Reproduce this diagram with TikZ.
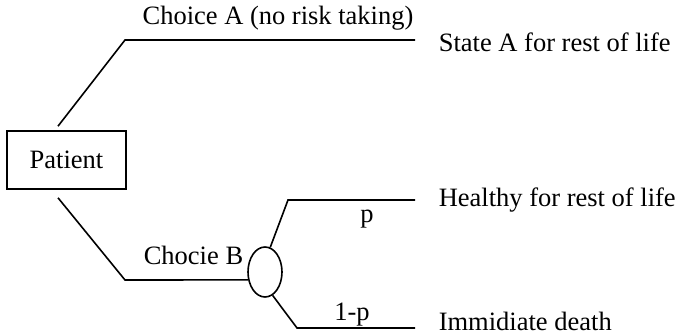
\documentclass[tikz,border=0pt]{standalone}
\usepackage{fontspec}
\setmainfont{Liberation Serif}
\usetikzlibrary{shapes.geometric}
\begin{document}
\begin{tikzpicture}[x=1pt,y=-1pt,line width=1.6pt,
	every node/.style={font=\fontsize{26.5}{30}\selectfont,inner sep=0pt},
	outcome/.style={anchor=base west},
	branchlabel/.style={anchor=base}]
	\useasboundingbox (0,0) rectangle (678,336);
	% decision and chance nodes
	\node[draw,minimum width=119pt,minimum height=58pt] (patient) at (66.5,160) {Patient};
	\node[draw,ellipse,minimum width=34pt,minimum height=50pt] (chance) at (265,272) {};
	% corners of the branches
	\coordinate (a1) at (125,40);
	\coordinate (a2) at (415,40);
	\coordinate (b1) at (125,280);
	\coordinate (p1) at (288,200);
	\coordinate (p2) at (415,200);
	\coordinate (q1) at (297,328);
	\coordinate (q2) at (415,328);
	% branches
	\draw ([shift={(-8.5,-4)}]patient.north) -- (a1) -- (a2);
	\draw ([shift={(-8.5,8)}]patient.south) -- (b1) -- (chance.-155);
	\draw (chance.78) -- (p1) -- (p2);
	\draw (chance.-72) -- (q1) -- (q2);
	% labels
	\node[branchlabel] (choiceA) at (278,25) {Choice A (no risk taking)};
	\node[outcome] (stateA) at (438,52) {State A for rest of life};
	\node[anchor=base west] (choiceB) at (143,265) {Chocie B};
	\node[branchlabel] (prob) at (367,223) {p};
	\node[branchlabel] (probc) at (352,321) {1-p};
	\node[outcome] (healthy) at (438,207) {Healthy for rest of life};
	\node[outcome] (death) at (438,331) {Immidiate death};
\end{tikzpicture}
\end{document}
